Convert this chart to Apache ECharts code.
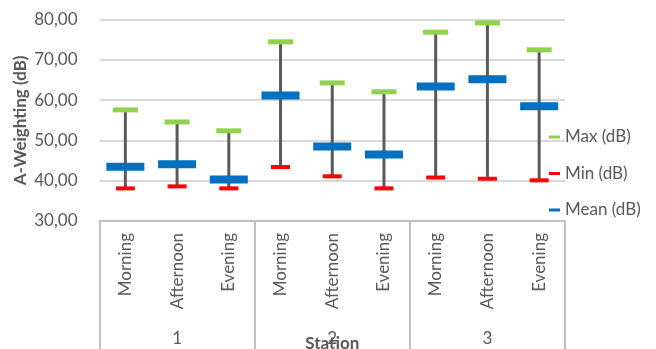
<!DOCTYPE html>
<html>
<head>
<meta charset="utf-8">
<script src="https://cdn.jsdelivr.net/npm/echarts@6/dist/echarts.min.js"></script>
<style>
  html, body { margin: 0; padding: 0; background: #fff; }
  #chart { width: 656px; height: 349px; }
</style>
</head>
<body>
<div id="chart"></div>
<script>
const periods = ['Morning', 'Afternoon', 'Evening', 'Morning', 'Afternoon', 'Evening', 'Morning', 'Afternoon', 'Evening'];
const stations = ['1', '2', '3'];
const maxVals = [57.6, 54.6, 52.4, 74.5, 64.3, 62.1, 76.9, 79.2, 72.5];
const minVals = [38.1, 38.6, 38.1, 43.4, 41.1, 38.1, 40.8, 40.5, 40.1];
const meanVals = [43.5, 44.1, 40.3, 61.2, 48.5, 46.5, 63.4, 65.2, 58.5];

const FONT = 'Lato';
const TXT = '#595959';

const chart = echarts.init(document.getElementById('chart'), null, { renderer: 'canvas' });

const whiskerData = periods.map((p, i) => [i, minVals[i], maxVals[i]]);

chart.setOption({
  animation: false,
  textStyle: { fontFamily: FONT },
  grid: { left: 99.5, right: 91, top: 19.7, bottom: 128, containLabel: false, outerBoundsMode: 'none' },
  legend: {
    orient: 'vertical',
    left: 549,
    top: 127,
    padding: 0,
    icon: 'rect',
    itemWidth: 11,
    itemHeight: 3,
    itemGap: 16.5,
    textStyle: { color: TXT, fontSize: 17, fontFamily: FONT, lineHeight: 20, padding: [0, 0, 0, 0] },
    data: ['Max (dB)', 'Min (dB)', 'Mean (dB)']
  },
  xAxis: [
    {
      type: 'category',
      data: periods,
      position: 'bottom',
      axisLine: { show: true, lineStyle: { color: '#BFBFBF', width: 2 } },
      axisTick: { show: false },
      axisLabel: { rotate: 90, margin: 12, color: TXT, fontSize: 17, fontFamily: FONT, interval: 0 },
      splitLine: { show: false }
    },
    {
      type: 'category',
      data: stations,
      position: 'bottom',
      axisLine: { show: false },
      axisTick: { show: true, length: 130, alignWithLabel: false, lineStyle: { color: '#BFBFBF', width: 2 } },
      axisLabel: { margin: 109, color: TXT, fontSize: 17, fontFamily: FONT },
      name: 'Station',
      nameLocation: 'middle',
      nameGap: 114,
      nameMoveOverlap: false,
      nameTextStyle: { color: TXT, fontSize: 17, fontWeight: 'bold', fontFamily: FONT, verticalAlign: 'top' }
    }
  ],
  yAxis: {
    type: 'value',
    min: 30,
    max: 80,
    interval: 10,
    axisLine: { show: false },
    axisTick: { show: false },
    axisLabel: {
      margin: 22,
      color: TXT,
      fontSize: 17,
      fontFamily: FONT,
      formatter: v => v.toFixed(2).replace('.', ',')
    },
    splitLine: { lineStyle: { color: '#D9D9D9', width: 2 } },
    name: 'A-Weighting (dB)',
    nameLocation: 'middle',
    nameRotate: 90,
    nameGap: 70,
    nameMoveOverlap: false,
    nameTextStyle: { color: TXT, fontSize: 17, fontWeight: 'bold', fontFamily: FONT }
  },
  series: [
    {
      type: 'custom',
      name: 'range',
      xAxisIndex: 0,
      z: 1,
      data: whiskerData,
      encode: { x: 0, y: [1, 2] },
      renderItem: function (params, api) {
        const x = api.value(0);
        const lo = api.coord([x, api.value(1)]);
        const hi = api.coord([x, api.value(2)]);
        return {
          type: 'line',
          shape: { x1: lo[0], y1: lo[1], x2: hi[0], y2: hi[1] },
          style: { stroke: '#5A5A5A', lineWidth: 3 }
        };
      }
    },
    {
      type: 'scatter',
      name: 'Max (dB)',
      xAxisIndex: 0,
      z: 3,
      symbol: 'rect',
      symbolSize: [25, 5],
      itemStyle: { color: '#92D050', opacity: 1 },
      data: maxVals
    },
    {
      type: 'scatter',
      name: 'Min (dB)',
      xAxisIndex: 0,
      z: 3,
      symbol: 'rect',
      symbolSize: [19, 4],
      itemStyle: { color: '#FF0000', opacity: 1 },
      data: minVals
    },
    {
      type: 'scatter',
      name: 'Mean (dB)',
      xAxisIndex: 0,
      z: 3,
      symbol: 'rect',
      symbolSize: [38, 8],
      itemStyle: { color: '#0070C0', opacity: 1 },
      data: meanVals
    }
  ]
});
</script>
</body>
</html>
